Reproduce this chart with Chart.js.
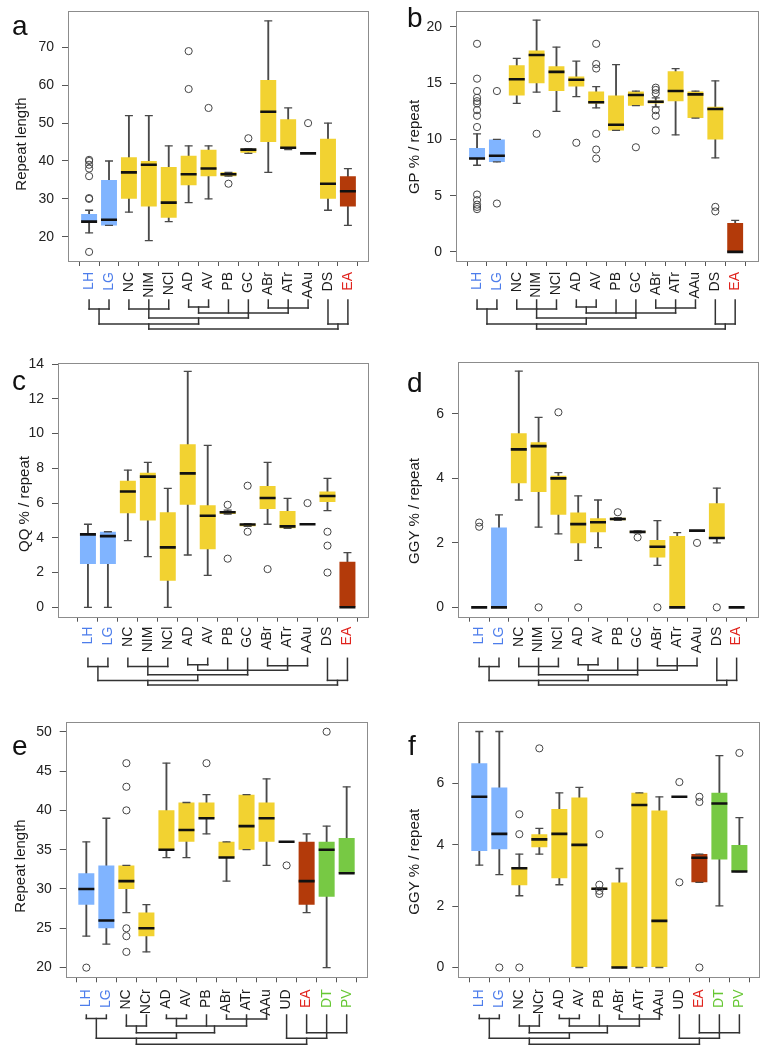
<!DOCTYPE html>
<html><head><meta charset="utf-8">
<script src="https://cdn.jsdelivr.net/npm/chart.js@4.4.1/dist/chart.umd.min.js"></script>
<style>
html,body{margin:0;padding:0;background:#fff;}
#wrap{position:relative;width:779px;height:1046px;overflow:hidden;}
#wrap canvas{position:absolute;}
</style></head><body>
<div id="wrap">
<canvas id="ca" width="390" height="340" style="left:0;top:0"></canvas>
<canvas id="cb" width="389" height="340" style="left:390px;top:0"></canvas>
<canvas id="cc" width="390" height="348" style="left:0;top:340px"></canvas>
<canvas id="cd" width="389" height="348" style="left:390px;top:340px"></canvas>
<canvas id="ce" width="390" height="358" style="left:0;top:688px"></canvas>
<canvas id="cf" width="389" height="358" style="left:390px;top:688px"></canvas>
</div>
<script>
// ---------- categories ----------
const catsAD = ['LH','LG','NC','NIM','NCl','AD','AV','PB','GC','ABr','ATr','AAu','DS','EA'];
const catsEF = ['LH','LG','NC','NCr','AD','AV','PB','ABr','ATr','AAu','UD','EA','DT','PV'];

// ---------- tick labels ----------
const yTicksA = [20,30,40,50,60,70];
const yTicksB = [0,5,10,15,20];
const yTicksC = [0,2,4,6,8,10,12,14];
const yTicksD = [0,2,4,6];
const yTicksE = [20,25,30,35,40,45,50];
const yTicksF = [0,2,4,6];

// ---------- panel a: repeat length ----------
const aMin = [21, 23, 26.5, 19, 24, 29, 30, 36, 42, 37, 43, 42, 27, 23];
const aQ1  = [24, 23, 30, 28, 25, 33.6, 36, 36, 42.2, 45, 43.2, 42, 30, 28];
const aMed = [24, 24.5, 37, 39, 29, 36.5, 38, 36.5, 43, 53, 43.5, 42, 34, 32];
const aQ3  = [26, 35, 41, 40, 38.4, 41.4, 43, 37, 43.2, 61.4, 51, 42, 45.9, 36];
const aMax = [27, 40, 52, 52, 44, 44, 44, 37, 43.2, 77, 54, 42, 50, 38];
const aOut = [[16,30,30.2,36,38,39,40,40.3],[],[],[],[],[59,69],[54],[34],[46],[],[],[50],[],[]];

// ---------- panel b: GP % / repeat ----------
const bMin = [7.7, 8, 13.2, 14.2, 12.5, 13.8, 12.8, 10.8, 13, 12.9, 10.4, 11.9, 8.35, 0];
const bQ1  = [8.28, 8, 13.9, 15, 14.3, 14.7, 13.2, 10.8, 13, 13.2, 13.4, 11.9, 10, 0];
const bMed = [8.3, 8.55, 15.35, 17.5, 16, 15.3, 13.3, 11.3, 13.95, 13.35, 14.3, 14, 12.7, 0];
const bQ3  = [9.24, 10, 16.6, 17.9, 16.5, 15.6, 14.25, 13.9, 14.25, 13.45, 16.05, 14.25, 12.9, 2.56];
const bMax = [10.5, 10, 17.2, 20.6, 18.2, 16.95, 14.7, 16.65, 14.3, 13.7, 16.3, 14.3, 15.2, 2.8];
const bOut = [[18.5,15.4,14.3,13.7,13.4,13.2,12.6,12.1,11.1,5.1,4.6,4.2,4.0,3.8],[14.3,4.3],[],[10.5],[],[9.7],[18.5,16.7,16.3,10.5,9.1,8.3],[],[9.3],[14.6,14.4,14.1,12.6,12.1,10.8],[],[],[4.0,3.6],[]];

// ---------- panel c: QQ % / repeat ----------
const cMin = [0, 0, 3.84, 2.92, 0, 3.01, 1.84, 5.37, 4.66, 4.78, 4.55, 4.78, 5.56, 0];
const cQ1  = [2.5, 2.5, 5.41, 4.99, 1.53, 5.9, 3.34, 5.37, 4.66, 5.66, 4.55, 4.78, 6.06, 0];
const cMed = [4.2, 4.1, 6.67, 7.52, 3.45, 7.71, 5.27, 5.47, 4.77, 6.29, 4.66, 4.78, 6.41, 0];
const cQ3  = [4.2, 4.35, 7.29, 7.75, 5.47, 9.38, 5.87, 5.54, 4.81, 6.98, 5.54, 4.78, 6.66, 2.63];
const cMax = [4.78, 4.35, 7.9, 8.34, 6.85, 13.58, 9.32, 5.6, 4.81, 8.34, 6.27, 4.78, 7.42, 3.15];
const cOut = [[],[],[],[],[],[],[],[5.9,2.8],[7.0,4.35],[2.2],[],[6.0],[4.35,3.55,2.0],[]];

// ---------- panel d: GGY % / repeat ----------
const dMin = [0, 0, 3.33, 2.49, 2.28, 1.46, 1.85, 2.70, 2.31, 1.3, 0, 2.38, 2.0, 0];
const dQ1  = [0, 0, 3.85, 3.58, 2.87, 1.99, 2.33, 2.70, 2.31, 1.55, 0, 2.38, 2.13, 0];
const dMed = [0, 0, 4.9, 5.0, 4.0, 2.58, 2.64, 2.74, 2.34, 1.88, 0, 2.38, 2.15, 0];
const dQ3  = [0, 2.48, 5.4, 5.12, 4.08, 2.94, 2.76, 2.78, 2.37, 2.09, 2.21, 2.38, 3.23, 0];
const dMax = [0, 2.87, 7.33, 5.89, 4.18, 3.46, 3.33, 2.78, 2.37, 2.69, 2.32, 2.38, 3.7, 0];
const dOut = [[2.5,2.63],[],[],[0],[6.05],[0],[],[2.95],[2.17],[0],[],[2.0],[0],[]];

// ---------- panel e: repeat length ----------
const eMin = [24, 23, 27, 22, 34, 34, 37, 31, 35, 33, 36, 27, 20, 32];
const eQ1  = [28, 25, 30, 24, 35, 36, 39, 34, 35, 36, 36, 28, 29, 32];
const eMed = [30, 26, 31, 25, 35, 37.5, 39, 34, 38, 39, 36, 31, 35, 32];
const eQ3  = [32, 33, 33, 27, 40, 41, 41, 36, 42, 41, 36, 36, 36, 36.5];
const eMax = [36, 39, 33, 28, 46, 41, 42, 36, 42, 44, 36, 37, 38, 43];
const eOut = [[20],[],[46,43,40,25,24,22],[],[],[],[46],[],[],[],[33],[],[50],[]];

// ---------- panel f: GGY % / repeat ----------
const fMin = [3.34, 3.03, 2.34, 3.7, 2.7, 0, 2.54, 0, 0, 0, 5.57, 2.78, 2.01, 3.13];
const fQ1  = [3.8, 3.86, 2.68, 3.92, 2.91, 0, 2.54, 0, 0, 0, 5.57, 2.78, 3.52, 3.13];
const fMed = [5.57, 4.36, 3.24, 4.18, 4.36, 4.0, 2.57, 0, 5.3, 1.52, 5.57, 3.58, 5.35, 3.13];
const fQ3  = [6.66, 5.87, 3.27, 4.35, 5.17, 5.55, 2.6, 2.77, 5.7, 5.12, 5.57, 3.7, 5.7, 4.0];
const fMax = [7.7, 7.7, 3.7, 4.54, 5.7, 5.88, 2.6, 3.23, 5.7, 5.57, 5.57, 3.7, 6.91, 4.89];
const fOut = [[],[0],[5.0,4.35,0],[7.15],[],[],[4.35,2.7,2.5,2.4],[],[],[],[6.05,2.78],[5.57,5.4,0],[],[7.0]];

// ---------- dendrograms (kids: leaf index or node id, h: merge level, at: stem position) ----------
const treeAD = [
  {id:'n1', kids:[1,2], h:1.8, at:1.5},
  {id:'n2', kids:[3,4,5], h:1.8, at:4},
  {id:'n3', kids:[6,7], h:1.4, at:6.5},
  {id:'n4', kids:[10,11,12], h:1.6, at:11},
  {id:'n5', kids:['n3',8,9,'n4'], h:2.6, at:9},
  {id:'n6', kids:['n2','n5'], h:3.6, at:6.5},
  {id:'n7', kids:['n1','n6'], h:4.8, at:4},
  {id:'n8', kids:[13,14], h:4.8, at:13.5},
  {id:'r',  kids:['n7','n8'], h:5.8, at:null}
];
const treeEF = [
  {id:'m1', kids:[1,2], h:0.7, at:1.5},
  {id:'m2', kids:[3,4], h:2.2, at:3.5},
  {id:'m3', kids:[5,6], h:0.7, at:5.5},
  {id:'m4', kids:[8,9,10], h:0.8, at:9},
  {id:'m5', kids:['m3',7,'m4'], h:2.2, at:7.4},
  {id:'m6', kids:['m2','m5'], h:3.55, at:5.5},
  {id:'m7', kids:['m1','m6'], h:4.65, at:3.5},
  {id:'m8', kids:[12,13,14], h:3.55, at:13},
  {id:'m9', kids:[11,'m8'], h:4.65, at:12},
  {id:'r',  kids:['m7','m9'], h:5.85, at:null}
];

// ---------- styles ----------
const FONT = '"Liberation Sans", Arial, Helvetica, sans-serif';
Chart.defaults.font.family = FONT;
Chart.defaults.font.size = 14;
Chart.defaults.color = '#222';

function boxColor(c){
  if (c==='LH'||c==='LG') return '#80B4FF';
  if (c==='EA') return '#B33A0A';
  if (c==='DT'||c==='PV') return '#77C944';
  return '#F2D231';
}
function labelColor(c){
  if (c==='LH'||c==='LG') return '#4D7DEB';
  if (c==='EA') return '#E0231D';
  if (c==='DT'||c==='PV') return '#66C733';
  return '#1c1c1c';
}

const extras = {
  id:'extras',
  afterDraw(chart, args, o){
    const {ctx, chartArea:a} = chart;
    const xs = chart.scales.x;
    ctx.save();
    // plot frame
    ctx.strokeStyle = '#8c8c8c'; ctx.lineWidth = 1;
    ctx.strokeRect(Math.round(a.left)+0.5, Math.round(a.top)+0.5, Math.round(a.right-a.left)-1, Math.round(a.bottom-a.top));
    // dendrogram
    ctx.strokeStyle = '#333'; ctx.lineWidth = 1.5; ctx.lineCap = 'square';
    const y0 = a.bottom + o.treeOffset, u = o.treeUnit;
    const map = {};
    const line = (x1,y1,x2,y2)=>{ctx.beginPath();ctx.moveTo(x1,y1);ctx.lineTo(x2,y2);ctx.stroke();};
    o.tree.forEach(n=>{
      const kids = n.kids.map(k => typeof k === 'number' ? {x:k, h:0} : map[k]);
      const yH = y0 + n.h*u;
      const px = kids.map(k => xs.getPixelForValue(k.x));
      kids.forEach((k,i)=> line(px[i], y0 + k.h*u, px[i], yH));
      line(Math.min(...px), yH, Math.max(...px), yH);
      map[n.id] = {x:n.at, h:n.h};
    });
    // y title
    ctx.fillStyle = '#1a1a1a';
    ctx.font = '15px ' + FONT;
    ctx.translate(o.titleX, o.titleY);
    ctx.rotate(-Math.PI/2);
    ctx.textAlign = 'center'; ctx.textBaseline = 'middle';
    ctx.fillText(o.title, 0, 0);
    ctx.restore();
    // panel letter
    ctx.save();
    ctx.fillStyle = '#111';
    ctx.font = '28px ' + FONT;
    ctx.textAlign = 'left'; ctx.textBaseline = 'alphabetic';
    ctx.fillText(o.letter, o.letterX, o.letterY);
    ctx.restore();
  }
};

function panel(id, cats, mins, q1s, meds, q3s, maxs, outs, yMin, yMax, yTicks, L){
  const pos = cats.map((c,i)=>i+1);
  const caps = [];
  pos.forEach((x,i)=>{ caps.push({x, y:mins[i]}); caps.push({x, y:maxs[i]}); });
  const outliers = [];
  outs.forEach((arr,i)=>arr.forEach(v=>outliers.push({x:i+1, y:v})));
  new Chart(document.getElementById(id), {
    type:'bar',
    data:{ datasets:[
      {type:'bar', data: pos.map((x,i)=>({x, y:[mins[i], maxs[i]]})), backgroundColor:'#4a4a4a',
       barThickness:1.2, grouped:false, borderWidth:0, order:5},
      {type:'bar', data: pos.map((x,i)=>({x, y:[q1s[i], q3s[i]]})), backgroundColor: cats.map(boxColor),
       grouped:false, categoryPercentage:1, barPercentage:0.8, borderWidth:0, order:4},
      {type:'line', showLine:false, data:caps, pointStyle:'line', pointRadius:4, pointBorderWidth:1.3,
       pointBorderColor:'#4a4a4a', order:3},
      {type:'line', showLine:false, data: pos.map((x,i)=>({x, y:meds[i]})), pointStyle:'line', pointRadius:8,
       pointBorderWidth:2.6, pointBorderColor:'#111', order:2},
      {type:'line', showLine:false, data:outliers, pointStyle:'circle', pointRadius:3.6, pointBorderWidth:1,
       pointBorderColor:'#444', pointBackgroundColor:'rgba(0,0,0,0)', order:1}
    ]},
    options:{
      responsive:false, animation:false, events:[],
      layout:{padding:{top:L.padTop, right:L.padRight, left:0, bottom:0}},
      plugins:{legend:{display:false}, tooltip:{enabled:false},
        extras:{tree:L.tree, treeOffset:L.treeOffset, treeUnit:L.treeUnit, title:L.title, titleX:L.titleX, titleY:L.titleY,
                letter:L.letter, letterX:L.letterX, letterY:L.letterY}},
      scales:{
        x:{type:'linear', min:L.xMin, max:L.xMax, offset:false,
           afterBuildTicks:s=>{ s.ticks = pos.map(v=>({value:v})); },
           afterFit:s=>{ s.height = L.xH; s.paddingLeft = 0; s.paddingRight = 0; },
           ticks:{autoSkip:false, minRotation:90, maxRotation:90, padding:L.labPad, font:{size:14},
                  color: ctx => labelColor(cats[ctx.index]), callback:(v,i)=>cats[i]},
           grid:{display:true, drawOnChartArea:false, drawTicks:true, tickLength:5, tickColor:'#555', tickWidth:1},
           border:{display:false}},
        y:{type:'linear', min:yMin, max:yMax,
           afterBuildTicks:s=>{ s.ticks = yTicks.map(v=>({value:v})); },
           afterFit:s=>{ s.width = L.yW; s.paddingTop = 0; s.paddingBottom = 0; },
           ticks:{padding:8, font:{size:14}, color:'#222'},
           grid:{display:true, drawOnChartArea:false, drawTicks:true, tickLength:6, tickColor:'#555', tickWidth:1},
           border:{display:false}}
      }
    },
    plugins:[extras]
  });
}

panel('ca', catsAD, aMin, aQ1, aMed, aQ3, aMax, aOut, 13.6, 79.7, yTicksA,
  {padTop:5, padRight:21, yW:68, xH:79, xMin:-0.06, xMax:15.06, labPad:6, tree:treeAD, treeOffset:39, treeUnit:5,
   title:'Repeat length', titleX:22, titleY:144, letter:'a', letterX:12, letterY:35});
panel('cb', catsAD, bMin, bQ1, bMed, bQ3, bMax, bOut, -0.81, 21.45, yTicksB,
  {padTop:5, padRight:20, yW:66, xH:79, xMin:-0.06, xMax:15.2, labPad:6, tree:treeAD, treeOffset:39, treeUnit:5,
   title:'GP % / repeat', titleX:25, titleY:147, letter:'b', letterX:17, letterY:27});
panel('cc', catsAD, cMin, cQ1, cMed, cQ3, cMax, cOut, -0.54, 14.08, yTicksC,
  {padTop:22.7, padRight:21, yW:58, xH:71.3, xMin:-0.5, xMax:15.08, labPad:5, tree:treeAD, treeOffset:41.6, treeUnit:4.6,
   title:'QQ % / repeat', titleX:25, titleY:164, letter:'c', letterX:12, letterY:50});
panel('cd', catsAD, dMin, dQ1, dMed, dQ3, dMax, dOut, -0.29, 7.61, yTicksD,
  {padTop:22, padRight:20, yW:68, xH:71.3, xMin:-0.07, xMax:15.13, labPad:5, tree:treeAD, treeOffset:41.6, treeUnit:4.6,
   title:'GGY % / repeat', titleX:25, titleY:171, letter:'d', letterX:17, letterY:52});
panel('ce', catsEF, eMin, eQ1, eMed, eQ3, eMax, eOut, 18.77, 51.2, yTicksE,
  {padTop:34.3, padRight:22.3, yW:65.7, xH:68.7, xMin:-0.03, xMax:15.05, labPad:7, tree:treeEF, treeOffset:37.7, treeUnit:5,
   title:'Repeat length', titleX:21, titleY:178, letter:'e', letterX:12, letterY:67});
panel('cf', catsEF, fMin, fQ1, fMed, fQ3, fMax, fOut, -0.32, 8.0, yTicksF,
  {padTop:34.3, padRight:19, yW:68.3, xH:68.7, xMin:-0.05, xMax:15.03, labPad:7, tree:treeEF, treeOffset:37.7, treeUnit:5,
   title:'GGY % / repeat', titleX:25, titleY:173.7, letter:'f', letterX:18, letterY:67});
</script>
</body></html>
